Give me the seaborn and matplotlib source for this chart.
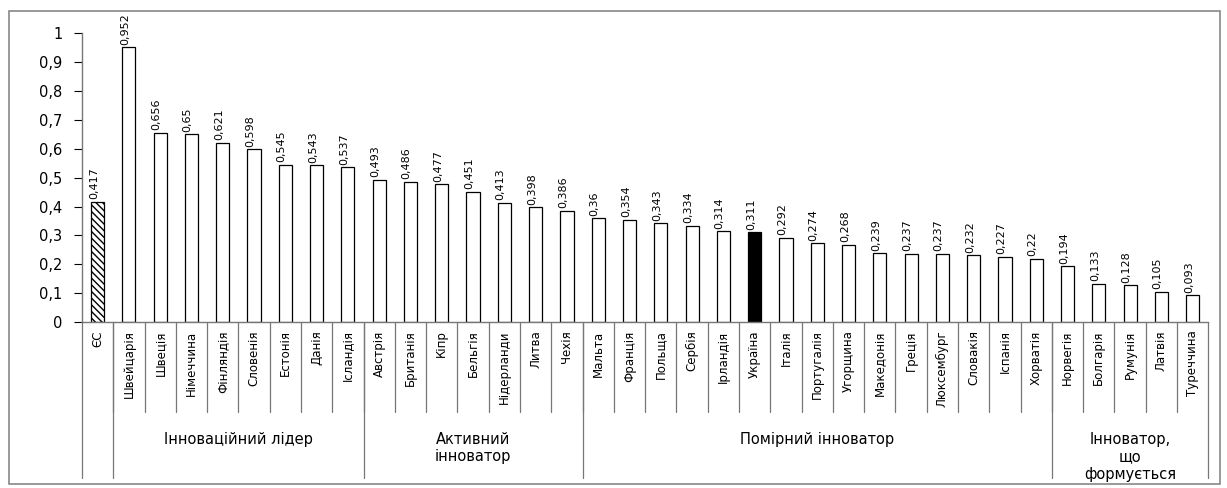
import matplotlib
matplotlib.use("Agg")
import matplotlib.pyplot as plt
import matplotlib.patches as mpatches
import matplotlib.transforms as mtrans
import pandas as pd
import seaborn as sns

# Data
countries = ['ЄС',
             'Швейцарія', 'Швеція', 'Німеччина', 'Фінляндія', 'Словенія',
             'Естонія', 'Данія', 'Ісландія',
             'Австрія', 'Британія', 'Кіпр', 'Бельгія', 'Нідерланди', 'Литва',
             'Чехія',
             'Мальта', 'Франція', 'Польща', 'Сербія', 'Ірландія', 'Україна',
             'Італія', 'Португалія', 'Угорщина', 'Македонія', 'Греція',
             'Люксембург', 'Словакія', 'Іспанія', 'Хорватія',
             'Норвегія', 'Болгарія', 'Румунія', 'Латвія', 'Туреччина']
values = [0.417,
          0.952, 0.656, 0.65, 0.621, 0.598, 0.545, 0.543, 0.537,
          0.493, 0.486, 0.477, 0.451, 0.413, 0.398, 0.386,
          0.36, 0.354, 0.343, 0.334, 0.314, 0.311, 0.292, 0.274, 0.268,
          0.239, 0.237, 0.237, 0.232, 0.227, 0.22,
          0.194, 0.133, 0.128, 0.105, 0.093]
group_names = ['Інноваційний лідер', 'Активний\nінноватор',
               'Помірний інноватор', 'Інноватор,\nщо\nформується']
group_sizes = [8, 7, 15, 5]

df = pd.DataFrame({'country': countries, 'value': values})

sns.set_style('white')
plt.rcParams['font.family'] = ['DejaVu Sans']
plt.rcParams['text.color'] = 'black'
plt.rcParams['xtick.color'] = 'black'
plt.rcParams['ytick.color'] = 'black'

fig = plt.figure(figsize=(12.27, 4.88), dpi=100)
ax = fig.add_axes([0.0668, 0.340, 0.918, 0.592])

sns.barplot(data=df, x='country', y='value', color='white',
            edgecolor='black', linewidth=0.9, width=0.42, saturation=1,
            ax=ax)

for patch, name in zip(ax.patches, countries):
    if name == 'ЄС':
        patch.set_hatch('\\\\\\\\\\')
    elif name == 'Україна':
        patch.set_facecolor('black')

narrow = ['Liberation Sans Narrow', 'DejaVu Sans Condensed', 'DejaVu Sans']
for i, v in enumerate(values):
    ax.text(i - 0.12, v + 0.008, str(v).replace('.', ','), rotation=90,
            ha='center', va='bottom', fontsize=8, family=narrow,
            color='black')

ax.set_xlim(-0.5, len(countries) - 0.5)
ax.set_ylim(0, 1)
ax.set_yticks([i / 10 for i in range(11)])
ax.set_yticklabels(['0'] + ['0,%d' % i for i in range(1, 10)] + ['1'],
                   fontsize=10.5)
ax.set_xticks(range(len(countries)))
ax.set_xticklabels(countries, rotation=90, fontsize=8.5, family=narrow,
                   va='top')
ax.tick_params(axis='x', length=0, pad=6)
ax.tick_params(axis='y', length=6, width=0.8, direction='out', left=True,
               pad=8, colors='black')
ax.set_xlabel('')
ax.set_ylabel('')
sns.despine(ax=ax, top=True, right=True)
for sp in ['left', 'bottom']:
    ax.spines[sp].set_color('#777777')
    ax.spines[sp].set_linewidth(1.0)

# multi-level category axis below the bars
trans = mtrans.blended_transform_factory(ax.transData, ax.transAxes)
for i in range(len(countries) - 1):
    ax.plot([i + 0.5, i + 0.5], [0, -0.31], color='#777777', lw=0.9,
            transform=trans, clip_on=False)
bounds = [-0.5, 0.5]
for s in group_sizes:
    bounds.append(bounds[-1] + s)
for b in bounds:
    ax.plot([b, b], [0, -0.54], color='#777777', lw=0.9,
            transform=trans, clip_on=False)
for k, name in enumerate(group_names):
    xc = (bounds[k + 1] + bounds[k + 2]) / 2
    ax.text(xc, -0.38, name, ha='center', va='top', fontsize=10.5,
            transform=trans, linespacing=1.2, color='black')

# thin frame around the whole figure
fig.patches.append(mpatches.Rectangle((0.007, 0.008), 0.987, 0.97,
                                      transform=fig.transFigure,
                                      fill=False, edgecolor='#888888',
                                      lw=1.2))

fig.savefig('out.png', dpi=100)
